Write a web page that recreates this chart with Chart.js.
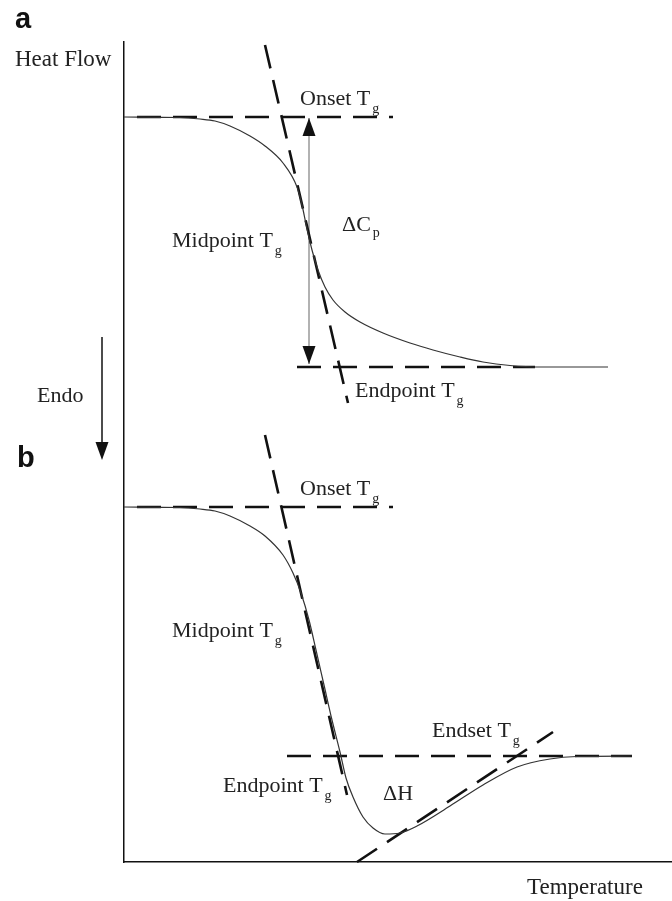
<!DOCTYPE html>
<html>
<head>
<meta charset="utf-8">
<script src="https://cdn.jsdelivr.net/npm/chart.js@4.4.1/dist/chart.umd.min.js"></script>
<style>
  body { margin: 0; background: #fff; }
  canvas { display: block; }
</style>
</head>
<body>
<canvas id="myChart" width="672" height="901"></canvas>
<script>
// schematic DSC traces, temperature and heat flow in arbitrary units
const tempA = [0, 56, 76, 91, 106, 126, 141, 159, 173, 178, 182, 188, 194, 201, 209, 221, 236, 259, 286, 309, 336, 359, 386, 416, 484];
const heatA = [745, 744.5, 743, 741, 736, 726, 716, 699, 675, 657, 638, 612, 592, 575, 562, 550, 540, 529, 519, 512, 505, 500, 496.5, 495, 495];

const tempB = [0, 56, 76, 91, 106, 126, 141, 159, 169, 177, 185, 192, 200, 208, 216, 222, 229, 239, 249, 261, 276, 293, 326, 359, 393, 426, 453, 508];
const heatB = [355, 354.5, 353, 351, 346, 336, 326, 307, 289, 269, 242, 212, 177, 142, 110, 84, 65, 45, 34, 28, 29, 36, 56, 77, 95, 103, 105.5, 106];

// construction lines [temp, heat]
const onsetA = [[13, 745], [269, 745]];
const tangentA = [[141, 817], [224, 459]];
const endA = [[173, 495], [411, 495]];
const deltaCp = [[185, 744], [185, 498]];

const onsetB = [[13, 355], [269, 355]];
const tangentB = [[141, 427], [223, 67]];
const endB = [[163, 106], [508, 106]];
const riseB = [[233, 0], [429, 130]];

// annotations placed at [temp, heat]
const noteText = ['Onset T', '\u0394C', 'Midpoint T', 'Endpoint T', 'Onset T', 'Midpoint T', 'Endpoint T', '\u0394H', 'Endset T'];
const noteSub = ['g', 'p', 'g', 'g', 'g', 'g', 'g', '', 'g'];
const noteTemp = [176, 218, 48, 231, 176, 48, 99, 259, 308];
const noteHeat = [757, 631, 615, 465, 367, 225, 70, 62, 125];

const pts = (xs, ys) => xs.map((v, i) => ({x: v, y: ys[i]}));
const seg = (p) => p.map(d => ({x: d[0], y: d[1]}));

const solid = (data) => ({
  data: data, showLine: true, pointRadius: 0, borderColor: '#333',
  borderWidth: 1.2, cubicInterpolationMode: 'monotone', clip: false
});
const dashed = (data) => ({
  data: data, showLine: true, pointRadius: 0, borderColor: '#111',
  borderWidth: 2.6, borderDash: [24, 12], clip: false
});

function arrowHead(ctx, x, tip, dir) {
  // dir -1 points up, +1 points down
  ctx.beginPath();
  ctx.moveTo(x, tip);
  ctx.lineTo(x - 6.5, tip - dir * 18);
  ctx.lineTo(x + 6.5, tip - dir * 18);
  ctx.closePath();
  ctx.fill();
}

function label(ctx, text, sub, px, py, drop, size) {
  ctx.font = (size || 22) + 'px "Liberation Serif"';
  ctx.fillText(text, px, py);
  if (!sub) return;
  const w = ctx.measureText(text).width;
  ctx.font = '14px "Liberation Serif"';
  ctx.fillText(sub, px + w + 2, py + drop);
}

const annotate = {
  id: 'annotate',
  afterDatasetsDraw(chart) {
    const {ctx, scales: {x, y}} = chart;
    ctx.save();
    ctx.fillStyle = '#111';
    chart.data.datasets.forEach((ds, i) => {
      if (!ds.arrows) return;
      const el = chart.getDatasetMeta(i).data;
      arrowHead(ctx, el[0].x, el[0].y, -1);
      arrowHead(ctx, el[el.length - 1].x, el[el.length - 1].y, 1);
    });
    ctx.fillStyle = '#222';
    ctx.textBaseline = 'alphabetic';
    noteText.forEach((t, i) => {
      label(ctx, t, noteSub[i], x.getPixelForValue(noteTemp[i]), y.getPixelForValue(noteHeat[i]), t === '\u0394C' ? 6 : 8);
    });
    // axis names and panel letters
    label(ctx, 'Heat Flow', '', 15, 66, 0, 23);
    label(ctx, 'Temperature', '', 527, 894, 0, 23);
    label(ctx, 'Endo', '', 37, 402, 0, 22);
    ctx.font = 'bold 29px "Liberation Sans"';
    ctx.fillStyle = '#111';
    ctx.fillText('a', 15, 28);
    ctx.fillText('b', 17, 467);
    // endothermic direction arrow
    ctx.strokeStyle = '#111';
    ctx.lineWidth = 1.5;
    ctx.beginPath();
    ctx.moveTo(102, 337);
    ctx.lineTo(102, 446);
    ctx.stroke();
    arrowHead(ctx, 102, 460, 1);
    ctx.restore();
  }
};

new Chart(document.getElementById('myChart'), {
  type: 'scatter',
  data: {
    datasets: [
      solid(pts(tempA, heatA)),
      solid(pts(tempB, heatB)),
      dashed(seg(onsetA)),
      dashed(seg(tangentA)),
      dashed(seg(endA)),
      dashed(seg(onsetB)),
      dashed(seg(tangentB)),
      dashed(seg(endB)),
      dashed(seg(riseB)),
      {data: seg(deltaCp), showLine: true, pointRadius: 0, borderColor: '#999', borderWidth: 1.5, arrows: true}
    ]
  },
  options: {
    responsive: false,
    animation: false,
    layout: {padding: {left: 124, top: 42, right: 0, bottom: 39}},
    plugins: {legend: {display: false}, tooltip: {enabled: false}},
    scales: {
      x: {
        min: 0, max: 548,
        ticks: {display: false},
        grid: {display: false, drawTicks: false},
        border: {display: true, color: '#111', width: 1.5}
      },
      y: {
        min: 0, max: 820,
        ticks: {display: false},
        grid: {display: false, drawTicks: false},
        border: {display: true, color: '#111', width: 1.5}
      }
    }
  },
  plugins: [annotate]
});
</script>
</body>
</html>
